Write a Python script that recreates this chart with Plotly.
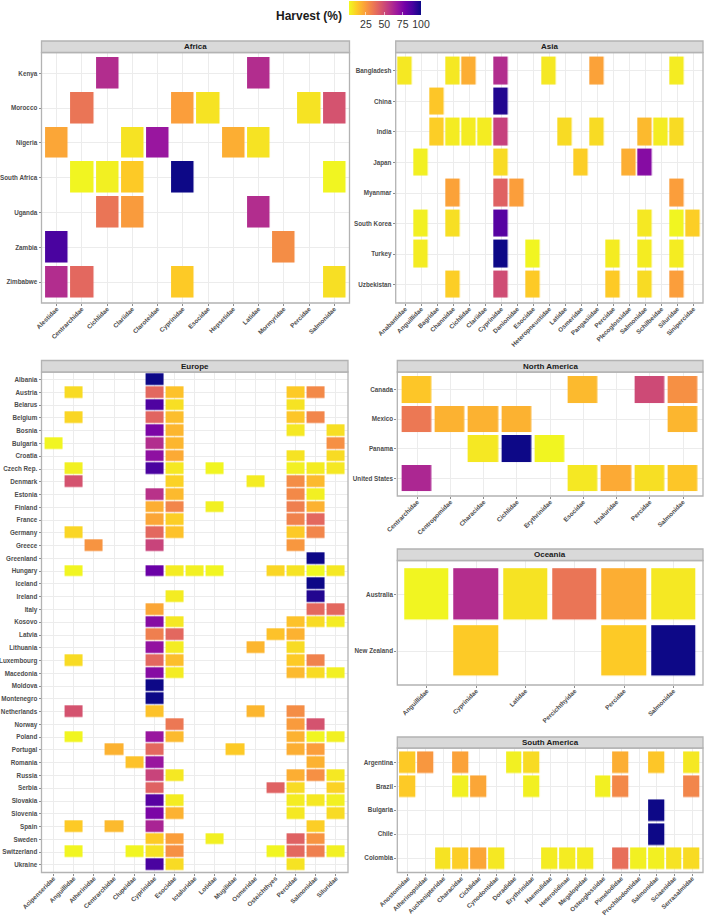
import plotly.graph_objects as go # plotly graph objects
from plotly.colors import sequential # colour scales

N = None # no tile

africa_countries = ["Kenya", "Morocco", "Nigeria", "South Africa", "Uganda", "Zambia", "Zimbabwe"]
africa_families = ["Alestidae", "Centrarchidae", "Cichlidae", "Clariidae", "Claroteidae", "Cyprinidae",
                   "Esocidae", "Hepsetidae", "Latidae", "Mormyridae", "Percidae", "Salmonidae"]
africa_harvest = [
    [N, N, 60, N, N, N, N, N, 60, N, N, N],
    [N, 36, N, N, N, 24, 7, N, N, N, 7, 47],
    [22, N, N, 7, 68, N, N, 20, 7, N, N, N],
    [N, 3, 4, 13, N, 100, N, N, N, N, N, 3],
    [N, N, 36, 25, N, N, N, N, 60, N, N, N],
    [88, N, N, N, N, N, N, N, N, 29, N, N],
    [60, 40, N, N, N, 13, N, N, N, N, N, 8],
]

asia_countries = ["Bangladesh", "China", "India", "Japan", "Myanmar", "South Korea", "Turkey", "Uzbekistan"]
asia_families = ["Anabantidae", "Anguillidae", "Bagridae", "Channidae", "Cichlidae", "Clariidae", "Cyprinidae",
                 "Danionidae", "Esocidae", "Heteropneustidae", "Latidae", "Osmeridae", "Pangasiidae", "Percidae",
                 "Plecoglossidae", "Salmonidae", "Schilbeidae", "Siluridae", "Sinipercidae"]
asia_harvest = [
    [6, N, N, 6, 20, N, 60, N, N, 6, N, N, 23, N, N, N, N, 5, N],
    [N, N, 14, N, N, N, 96, N, N, N, N, N, N, N, N, N, N, N, N],
    [N, N, 12, 5, 5, 5, 53, N, N, N, 9, N, 9, N, N, 17, 5, 9, N],
    [N, 4, N, N, N, N, 9, N, N, N, N, 12, N, N, 20, 73, N, N, N],
    [N, N, N, 23, N, N, 42, 24, N, N, N, N, N, N, N, N, N, 24, N],
    [N, 4, N, 8, N, N, 85, N, N, N, N, N, N, N, N, 6, N, 3, 12],
    [N, 5, N, N, N, N, 100, N, 3, N, N, N, N, 5, N, 5, N, 5, N],
    [N, N, N, 12, N, N, 49, N, 13, N, N, N, N, 13, N, 9, N, 24, N],
]

europe_countries = ["Albania", "Austria", "Belarus", "Belgium", "Bosnia", "Bulgaria", "Croatia", "Czech Rep.",
                    "Denmark", "Estonia", "Finland", "France", "Germany", "Greece", "Greenland", "Hungary",
                    "Iceland", "Ireland", "Italy", "Kosovo", "Latvia", "Lithuania", "Luxembourg", "Macedonia",
                    "Moldova", "Montenegro", "Netherlands", "Norway", "Poland", "Portugal", "Romania", "Russia",
                    "Serbia", "Slovakia", "Slovenia", "Spain", "Sweden", "Switzerland", "Ukraine"]
europe_families = ["Acipenseridae", "Anguillidae", "Atherinidae", "Centrarchidae", "Clupeidae", "Cyprinidae",
                   "Esocidae", "Ictaluridae", "Lotidae", "Mugilidae", "Osmeridae", "Osteichthyes", "Percidae",
                   "Salmonidae", "Siluridae"]
europe_harvest = [
    [N, N, N, N, N, 100, N, N, N, N, N, N, N, N, N],
    [N, 9, N, N, N, 40, 15, N, N, N, N, N, 13, 30, N],
    [N, N, N, N, N, 87, 8, N, N, N, N, N, 7, N, N],
    [N, 10, N, N, N, 41, 16, N, N, N, N, N, 14, 31, N],
    [N, N, N, N, N, 76, 18, N, N, N, N, N, 6, N, 8],
    [3, N, N, N, N, 60, 18, N, N, N, N, N, N, N, 28],
    [N, N, N, N, N, 71, 21, N, N, N, N, N, 7, N, 9],
    [N, 4, N, N, N, 88, 6, N, 3, N, N, N, 4, 5, 6],
    [N, 47, N, N, N, N, 11, N, N, N, 5, N, 29, 17, N],
    [N, N, N, N, N, 58, 17, N, N, N, N, N, 30, 4, N],
    [N, N, N, N, N, 20, 31, N, 4, N, N, N, 33, 19, N],
    [N, N, N, N, N, 22, 12, N, N, N, N, N, 32, 40, N],
    [N, 10, N, N, N, 40, 15, N, N, N, N, N, 13, 31, N],
    [N, N, 27, N, N, 52, N, N, N, N, N, N, 26, N, N],
    [N, N, N, N, N, N, N, N, N, N, N, N, N, 100, N],
    [N, 3, N, N, N, 80, 5, 4, 3, N, N, 10, 7, 2, 6],
    [N, N, N, N, N, N, N, N, N, N, N, N, N, 100, N],
    [N, N, N, N, N, N, 5, N, N, N, N, N, N, 96, N],
    [N, N, N, N, N, 22, N, N, N, N, N, N, N, 40, 40],
    [N, N, N, N, N, 73, 6, N, N, N, N, N, 15, 9, 5],
    [N, N, N, N, N, 33, 40, N, N, N, N, 15, 19, N, N],
    [N, N, N, N, N, 70, 5, N, N, N, 18, N, 9, N, N],
    [N, 9, N, N, N, 40, 16, N, N, N, N, N, 13, 32, N],
    [N, N, N, N, N, 73, 5, N, N, N, N, N, 17, 9, 4],
    [N, N, N, N, N, 100, N, N, N, N, N, N, N, N, N],
    [N, N, N, N, N, 100, N, N, N, N, N, N, N, N, N],
    [N, 47, N, N, N, 15, N, N, N, N, 18, N, 29, N, N],
    [N, N, N, N, N, N, 35, N, N, N, N, N, 25, 47, N],
    [N, 3, N, N, N, 68, 17, N, N, N, N, N, 19, 3, 4],
    [N, N, N, 19, N, 40, N, N, N, 13, N, N, 20, 24, N],
    [N, N, N, N, 15, 68, N, N, N, N, N, N, N, 19, N],
    [N, N, N, N, N, 52, 6, N, N, N, N, N, 20, 28, 6],
    [N, N, N, N, N, 42, N, N, N, N, N, 42, 9, N, 11],
    [N, N, N, N, N, 85, 5, N, N, N, N, N, 5, 6, 4],
    [N, N, N, N, N, 76, 19, N, N, N, N, N, 6, N, 9],
    [N, 13, N, 17, N, 63, N, N, N, N, N, N, N, 12, N],
    [N, N, N, N, N, 13, 24, N, 4, N, N, N, 42, 27, N],
    [N, 3, N, N, 3, 7, 28, N, N, N, N, 3, 40, 33, 4],
    [N, N, N, N, N, 88, 9, N, N, N, N, N, 7, N, N],
]

namerica_countries = ["Canada", "Mexico", "Panama", "United States"]
namerica_families = ["Centrarchidae", "Centropomidae", "Characidae", "Cichlidae", "Erythrinidae", "Esocidae",
                     "Ictaluridae", "Percidae", "Salmonidae"]
namerica_harvest = [
    [14, N, N, N, N, 17, N, 50, 28],
    [35, 19, 19, 19, N, N, N, N, 18],
    [N, N, 6, 100, 3, N, N, N, N],
    [62, N, N, N, N, 6, 21, 8, 14],
]

oceania_countries = ["Australia", "New Zealand"]
oceania_families = ["Anguillidae", "Cyprinidae", "Latidae", "Percichthyidae", "Percidae", "Salmonidae"]
oceania_harvest = [
    [3, 60, 7, 36, 20, 6],
    [N, 13, N, N, 13, 100],
]

samerica_countries = ["Argentina", "Brazil", "Bulgaria", "Chile", "Colombia"]
samerica_families = ["Anostomidae", "Atherinopsidae", "Auchenipteridae", "Characidae", "Cichlidae", "Cynodontidae",
                     "Doradidae", "Erythrinidae", "Haemulidae", "Heterotidinae", "Megalopidae", "Osteoglossidae",
                     "Pimelodidae", "Prochilodontidae", "Salmonidae", "Sciaenidae", "Serrasalmidae"]
samerica_harvest = [
    [13, 26, N, 23, N, N, 4, 9, N, N, N, N, 20, N, 14, N, 6],
    [13, N, N, 4, 22, N, N, 4, N, N, N, 4, 30, N, N, N, 31],
    [N, N, N, N, N, N, N, N, N, N, N, N, N, N, 100, N, N],
    [N, N, N, N, N, N, N, N, N, N, N, N, N, N, 100, N, N],
    [N, N, 7, 12, 22, 6, N, N, 5, 5, 5, N, 38, 4, 4, 7, 9],
]

W, H = 704, 916 # page size in pixels
TICK_FONT = dict(family="Liberation Sans", size=6.3, color="#4d4d4d", weight="bold")
BORDER = "#b3b3b3"

# name, countries, families, values, left, right, strip top, strip bottom, plot bottom (pixels)
panels = [
    ("Africa", africa_countries, africa_families, africa_harvest, 41.5, 349.5, 41, 52.5, 303),
    ("Asia", asia_countries, asia_families, asia_harvest, 395.7, 703, 41, 52.5, 303),
    ("Europe", europe_countries, europe_families, europe_harvest, 41.5, 348, 360.5, 372, 872.5),
    ("North America", namerica_countries, namerica_families, namerica_harvest, 397.3, 703, 360.5, 372, 496),
    ("Oceania", oceania_countries, oceania_families, oceania_harvest, 397.3, 703, 549, 560.5, 685),
    ("South America", samerica_countries, samerica_families, samerica_harvest, 397.3, 703, 737, 748, 872.5),
]

fig = go.Figure()
shapes = []
annotations = []

for i, (name, countries, families, harvest, left, right, s_top, s_bot, bottom) in enumerate(panels, start=1):
    fig.add_trace(go.Heatmap( # one heatmap per panel
        x=families,
        y=countries,
        z=harvest,
        coloraxis="coloraxis",
        xgap=0.1 * (right - left) / (len(families) + 0.2), # tiles fill 90% of a cell
        ygap=0.1 * (bottom - s_bot) / (len(countries) + 0.2),
        hoverongaps=False,
        xaxis=f"x{i}",
        yaxis=f"y{i}",
    ))
    fig.layout[f"xaxis{i}"] = dict(
        domain=[left / W, right / W],
        anchor=f"y{i}",
        type="category",
        range=[-0.6, len(families) - 0.4],
        tickmode="array",
        tickvals=families,
        ticktext=families,
        tickangle=-45,
        tickfont=TICK_FONT,
        ticklabelstandoff=-3,
        ticks="outside",
        ticklen=2,
        tickwidth=1,
        tickcolor="#8c8c8c",
        gridcolor="#ececec",
        gridwidth=1,
        showline=False,
        zeroline=False,
    )
    fig.layout[f"yaxis{i}"] = dict(
        domain=[1 - bottom / H, 1 - s_bot / H],
        anchor=f"x{i}",
        type="category",
        range=[len(countries) - 0.4, -0.6],
        tickmode="array",
        tickvals=countries,
        ticktext=countries,
        tickfont=TICK_FONT,
        ticks="outside",
        ticklen=2,
        tickwidth=1,
        tickcolor="#8c8c8c",
        gridcolor="#ececec",
        gridwidth=1,
        showline=False,
        zeroline=False,
    )
    # panel border
    shapes.append(dict(type="rect", xref="paper", yref="paper", x0=left / W, x1=right / W,
                       y0=1 - bottom / H, y1=1 - s_bot / H, line=dict(color=BORDER, width=1.3),
                       fillcolor="rgba(0,0,0,0)", layer="above"))
    # strip
    shapes.append(dict(type="rect", xref="paper", yref="paper", x0=left / W, x1=right / W,
                       y0=1 - s_bot / H, y1=1 - s_top / H, line=dict(color=BORDER, width=1.3),
                       fillcolor="#d9d9d9", layer="above"))
    annotations.append(dict(text=f"<b>{name}</b>", xref="paper", yref="paper", x=(left + right) / 2 / W,
                            y=1 - (s_top + s_bot) / 2 / H, showarrow=False, xanchor="center", yanchor="middle",
                            font=dict(family="Liberation Sans", size=8, color="#1a1a1a")))

annotations.append(dict(text="<b>Harvest (%)</b>", xref="paper", yref="paper", x=344 / W, y=1 - 15.5 / H,
                        showarrow=False, xanchor="right", yanchor="middle",
                        font=dict(family="Liberation Sans", size=12, color="#1a1a1a")))

fig.update_layout(
    width=W,
    height=H,
    margin=dict(l=0, r=0, t=0, b=0, autoexpand=False),
    paper_bgcolor="white",
    plot_bgcolor="white",
    showlegend=False,
    shapes=shapes,
    annotations=annotations,
    coloraxis=dict(
        colorscale=sequential.Plasma_r,
        cmin=2,
        cmax=100,
        colorbar=dict(
            orientation="h",
            x=349 / W,
            xanchor="left",
            y=1 - 1 / H,
            yanchor="top",
            lenmode="pixels",
            len=72,
            thickness=14,
            xpad=0,
            ypad=0,
            outlinewidth=0,
            tickmode="array",
            tickvals=[25, 50, 75, 100],
            ticks="inside",
            ticklen=3,
            tickcolor="rgba(255,255,255,0.6)",
            tickfont=dict(family="Liberation Sans", size=10.5, color="#333333"),
        ),
    ),
)

fig.write_html("out.html", config=dict(displayModeBar=False), post_script="document.body.style.margin='0';")
